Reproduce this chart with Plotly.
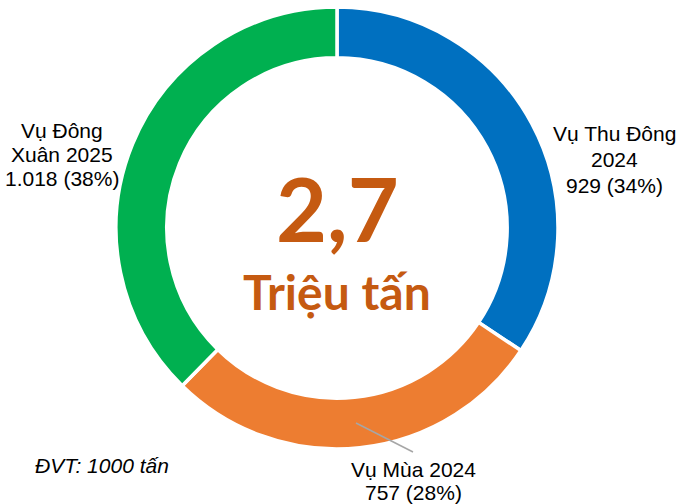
import plotly.graph_objects as go

labels = ["Vụ Thu Đông|2024", "Vụ Mùa 2024", "Vụ Đông|Xuân 2025"]
values = [929, 757, 1018]
colors = ["#0070C0", "#ED7D31", "#00B050"]
total_text = "2,7"
unit_text = "Triệu tấn"
note_text = "ĐVT: 1000 tấn"

W, H = 677, 504
cx, cy, R = 337, 228, 221

def fmt(v):
    return f"{v:,}".replace(",", ".")

total = sum(values)
label_lines = [l.split("|") + [f"{fmt(v)} ({round(v / total * 100)}%)"] for l, v in zip(labels, values)]

fig = go.Figure(go.Pie(
    values=values,
    labels=[l.replace("|", " ") for l in labels],
    hole=0.77,
    sort=False,
    direction="clockwise",
    rotation=0,
    marker=dict(colors=colors, line=dict(color="white", width=3.5)),
    textinfo="none",
    hoverinfo="none",
    showlegend=False,
    domain=dict(x=[(cx - R) / W, (cx + R) / W], y=[(H - cy - R) / H, (H - cy + R) / H]),
))

# (center x, first line y, line spacing) in pixels
label_pos = [(614, 133, 25.5), (413.5, 468.5, 23), (62, 129.5, 24)]
for lines, (x, y0, dy) in zip(label_lines, label_pos):
    for i, t in enumerate(lines):
        fig.add_annotation(x=x / W, y=1 - (y0 + i * dy + 1) / H, xref="paper", yref="paper", text=t,
                           showarrow=False, xanchor="center", yanchor="middle",
                           font=dict(family="Liberation Sans, Arial", size=21, color="#000000"))

# leader line for bottom label
fig.add_shape(type="line", xref="paper", yref="paper",
              x0=356 / W, y0=1 - 423 / H, x1=413 / W, y1=1 - 452 / H,
              line=dict(color="#A6A6A6", width=1.5))

fig.add_annotation(x=cx / W, y=1 - 208 / H, xref="paper", yref="paper", text=f"<b>{total_text}</b>",
                   showarrow=False, xanchor="center", yanchor="middle",
                   font=dict(family="Lato", size=88, color="#C55A11"))
fig.add_annotation(x=cx / W, y=1 - 291 / H, xref="paper", yref="paper", text=f"<b>{unit_text}</b>",
                   showarrow=False, xanchor="center", yanchor="middle",
                   font=dict(family="Lato", size=48, color="#C55A11"))
fig.add_annotation(x=101.5 / W, y=1 - 465.5 / H, xref="paper", yref="paper", text=f"<i>{note_text}</i>",
                   showarrow=False, xanchor="center", yanchor="middle",
                   font=dict(family="Liberation Sans, Arial", size=21, color="#000000"))

fig.update_layout(width=W, height=H, margin=dict(l=0, r=0, t=0, b=0),
                  paper_bgcolor="white", plot_bgcolor="white")
fig.write_html("out.html", config={"displayModeBar": False},
               post_script="document.body.style.margin='0px';")
